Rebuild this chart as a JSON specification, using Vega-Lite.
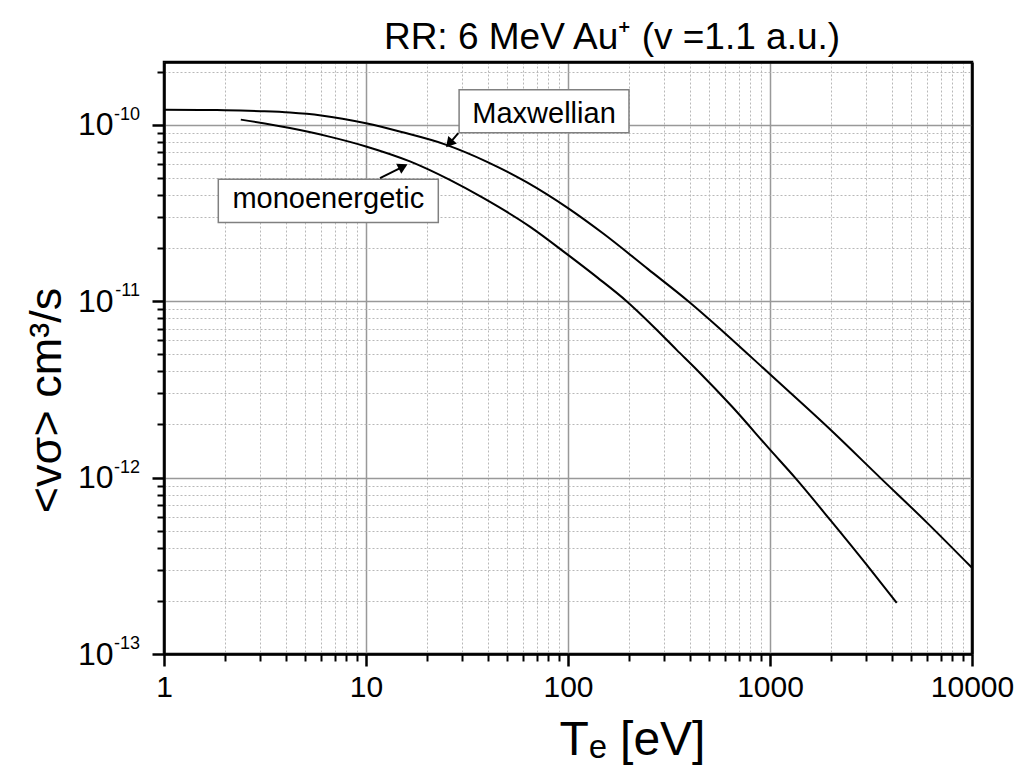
{
  "$schema": "https://vega.github.io/schema/vega-lite/v6.json",
  "autosize": "none",
  "width": 808,
  "height": 592,
  "padding": {"left": 164, "top": 62, "right": 52, "bottom": 119},
  "background": "white",
  "title": {
    "text": "RR: 6 MeV Au⁺ (v =1.1 a.u.)",
    "fontSize": 37,
    "font": "Liberation Sans",
    "fontWeight": "normal",
    "color": "black",
    "anchor": "middle",
    "dx": 44,
    "baseline": "alphabetic",
    "offset": -24
  },
  "config": {
    "view": {"stroke": "black", "strokeWidth": 2.5},
    "font": "Liberation Sans",
    "axis": {
      "labelFont": "Liberation Sans",
      "titleFont": "Liberation Sans",
      "labelColor": "black",
      "titleColor": "black",
      "tickColor": "black",
      "domainColor": "black",
      "titleFontWeight": "normal"
    }
  },
  "datasets": {
    "curves": [
      {"series": "Maxwellian", "T": 1, "rate": 1.216e-10},
      {"series": "Maxwellian", "T": 1.5, "rate": 1.214e-10},
      {"series": "Maxwellian", "T": 2, "rate": 1.21e-10},
      {"series": "Maxwellian", "T": 3, "rate": 1.195e-10},
      {"series": "Maxwellian", "T": 4.2, "rate": 1.174e-10},
      {"series": "Maxwellian", "T": 6, "rate": 1.13e-10},
      {"series": "Maxwellian", "T": 10, "rate": 1.02e-10},
      {"series": "Maxwellian", "T": 15, "rate": 9.1e-11},
      {"series": "Maxwellian", "T": 25, "rate": 7.7e-11},
      {"series": "Maxwellian", "T": 40, "rate": 6.15e-11},
      {"series": "Maxwellian", "T": 63, "rate": 4.7e-11},
      {"series": "Maxwellian", "T": 100, "rate": 3.37e-11},
      {"series": "Maxwellian", "T": 150, "rate": 2.41e-11},
      {"series": "Maxwellian", "T": 250, "rate": 1.515e-11},
      {"series": "Maxwellian", "T": 394, "rate": 1.0e-11},
      {"series": "Maxwellian", "T": 600, "rate": 6.57e-12},
      {"series": "Maxwellian", "T": 1000, "rate": 3.85e-12},
      {"series": "Maxwellian", "T": 2000, "rate": 1.86e-12},
      {"series": "Maxwellian", "T": 3507, "rate": 1.0e-12},
      {"series": "Maxwellian", "T": 6000, "rate": 5.54e-13},
      {"series": "Maxwellian", "T": 10000, "rate": 3.08e-13},
      {"series": "monoenergetic", "T": 2.4, "rate": 1.07e-10},
      {"series": "monoenergetic", "T": 4.2, "rate": 9.58e-11},
      {"series": "monoenergetic", "T": 6.5, "rate": 8.6e-11},
      {"series": "monoenergetic", "T": 10, "rate": 7.54e-11},
      {"series": "monoenergetic", "T": 16.5, "rate": 6.2e-11},
      {"series": "monoenergetic", "T": 26, "rate": 4.87e-11},
      {"series": "monoenergetic", "T": 38, "rate": 3.85e-11},
      {"series": "monoenergetic", "T": 65, "rate": 2.64e-11},
      {"series": "monoenergetic", "T": 100, "rate": 1.83e-11},
      {"series": "monoenergetic", "T": 140, "rate": 1.36e-11},
      {"series": "monoenergetic", "T": 195, "rate": 1.0e-11},
      {"series": "monoenergetic", "T": 270, "rate": 7.03e-12},
      {"series": "monoenergetic", "T": 345, "rate": 5.3e-12},
      {"series": "monoenergetic", "T": 434, "rate": 4.09e-12},
      {"series": "monoenergetic", "T": 650, "rate": 2.52e-12},
      {"series": "monoenergetic", "T": 1000, "rate": 1.44e-12},
      {"series": "monoenergetic", "T": 1330, "rate": 1.0e-12},
      {"series": "monoenergetic", "T": 2000, "rate": 5.7e-13},
      {"series": "monoenergetic", "T": 3000, "rate": 3.22e-13},
      {"series": "monoenergetic", "T": 4240, "rate": 1.95e-13}
    ],
    "labels": [
      {"label": "Maxwellian", "x1": 28.9, "x2": 200.4, "y1": 1.578e-10, "y2": 9.01e-11, "tx": 76.1, "ty": 1.03e-10, "ax1": 28.64, "ay1": 8.97e-11, "ax2": 25.85, "ay2": 7.83e-11, "angle": 221},
      {"label": "monoenergetic", "x1": 1.857, "x2": 22.8, "y1": 4.92e-11, "y2": 2.796e-11, "tx": 6.51, "ty": 3.37e-11, "ax1": 11.73, "ay1": 4.99e-11, "ax2": 15.27, "ay2": 5.8e-11, "angle": 63.5}
    ],
    "exponents": [
      {"v": 1e-10, "exp": "-10"},
      {"v": 1e-11, "exp": "-11"},
      {"v": 1e-12, "exp": "-12"},
      {"v": 1e-13, "exp": "-13"}
    ]
  },
  "resolve": {"axis": {"x": "independent", "y": "independent"}},
  "layer": [
    {
      "data": {"name": "labels"},
      "mark": {"type": "rect", "fill": "white", "stroke": "#808080", "strokeWidth": 1.5},
      "encoding": {
        "x": {"field": "x1", "type": "quantitative",
          "scale": {"type": "log", "domain": [1, 10000], "nice": false},
          "axis": {"orient": "bottom", "values": [2,3,4,5,6,7,8,9,20,30,40,50,60,70,80,90,200,300,400,500,600,700,800,900,2000,3000,4000,5000,6000,7000,8000,9000],
            "labels": false, "title": null, "domain": false, "ticks": true, "tickSize": 7, "tickWidth": 2,
            "grid": true, "gridColor": "#b8b8b8", "gridWidth": 1, "gridDash": [2, 2]}},
        "x2": {"field": "x2"},
        "y": {"field": "y1", "type": "quantitative",
          "scale": {"type": "log", "domain": [1e-13, 2.27e-10], "nice": false},
          "axis": {"orient": "left", "values": [2e-13,3e-13,4e-13,5e-13,6e-13,7e-13,8e-13,9e-13,2e-12,3e-12,4e-12,5e-12,6e-12,7e-12,8e-12,9e-12,2e-11,3e-11,4e-11,5e-11,6e-11,7e-11,8e-11,9e-11,2e-10],
            "labels": false, "title": null, "domain": false, "ticks": true, "tickSize": 7, "tickWidth": 2,
            "grid": true, "gridColor": "#b8b8b8", "gridWidth": 1, "gridDash": [2, 2]}},
        "y2": {"field": "y2"}
      }
    },
    {
      "data": {"name": "curves"},
      "mark": {"type": "line", "color": "black", "strokeWidth": 2, "interpolate": "monotone"},
      "encoding": {
        "x": {"field": "T", "type": "quantitative",
          "axis": {"orient": "bottom", "values": [1, 10, 100, 1000, 10000], "format": "d",
            "labelFontSize": 30, "labelPadding": 6, "labelFlush": false,
            "tickSize": 12, "tickWidth": 2.5,
            "grid": true, "gridColor": "#999999", "gridWidth": 1.5,
            "domain": true, "domainWidth": 2.5,
            "title": "Tₑ [eV]", "titleFontSize": 48, "titlePadding": 14, "titleX": 468}},
        "y": {"field": "rate", "type": "quantitative",
          "axis": {"orient": "left", "values": [1e-13, 1e-12, 1e-11, 1e-10],
            "labelExpr": "'10'",
            "labelFontSize": 32, "labelPadding": 39, "labelFlush": false,
            "tickSize": 12, "tickWidth": 2.5,
            "grid": true, "gridColor": "#999999", "gridWidth": 1.5,
            "domain": true, "domainWidth": 2.5,
            "title": "<vσ> cm³/s", "titleFontSize": 45, "titlePadding": 8, "titleY": 338}},
        "detail": {"field": "series"}
      }
    },
    {
      "data": {"name": "exponents"},
      "mark": {"type": "text", "fontSize": 18, "font": "Liberation Sans", "color": "black", "align": "right", "baseline": "alphabetic", "dx": -24, "dy": -5},
      "encoding": {
        "x": {"datum": 1, "type": "quantitative", "axis": null},
        "y": {"field": "v", "type": "quantitative", "axis": null},
        "text": {"field": "exp"}
      }
    },
    {
      "data": {"name": "labels"},
      "mark": {"type": "rule", "color": "black", "strokeWidth": 2},
      "encoding": {
        "x": {"field": "ax1", "type": "quantitative",
          "axis": {"orient": "top", "labels": false, "ticks": false, "grid": false, "title": null, "domain": true, "domainWidth": 2.5}},
        "x2": {"field": "ax2"},
        "y": {"field": "ay1", "type": "quantitative",
          "axis": {"orient": "right", "labels": false, "ticks": false, "grid": false, "title": null, "domain": true, "domainWidth": 2.5}},
        "y2": {"field": "ay2"}
      }
    },
    {
      "data": {"name": "labels"},
      "mark": {"type": "point", "shape": "triangle-up", "filled": true, "color": "black", "size": 130, "opacity": 1},
      "encoding": {
        "x": {"field": "ax2", "type": "quantitative", "axis": null},
        "y": {"field": "ay2", "type": "quantitative", "axis": null},
        "angle": {"field": "angle", "type": "quantitative", "scale": null}
      }
    },
    {
      "data": {"name": "labels"},
      "mark": {"type": "text", "fontSize": 29, "font": "Liberation Sans", "color": "black", "align": "center", "baseline": "alphabetic"},
      "encoding": {
        "x": {"field": "tx", "type": "quantitative", "axis": null},
        "y": {"field": "ty", "type": "quantitative", "axis": null},
        "text": {"field": "label"}
      }
    }
  ]
}
